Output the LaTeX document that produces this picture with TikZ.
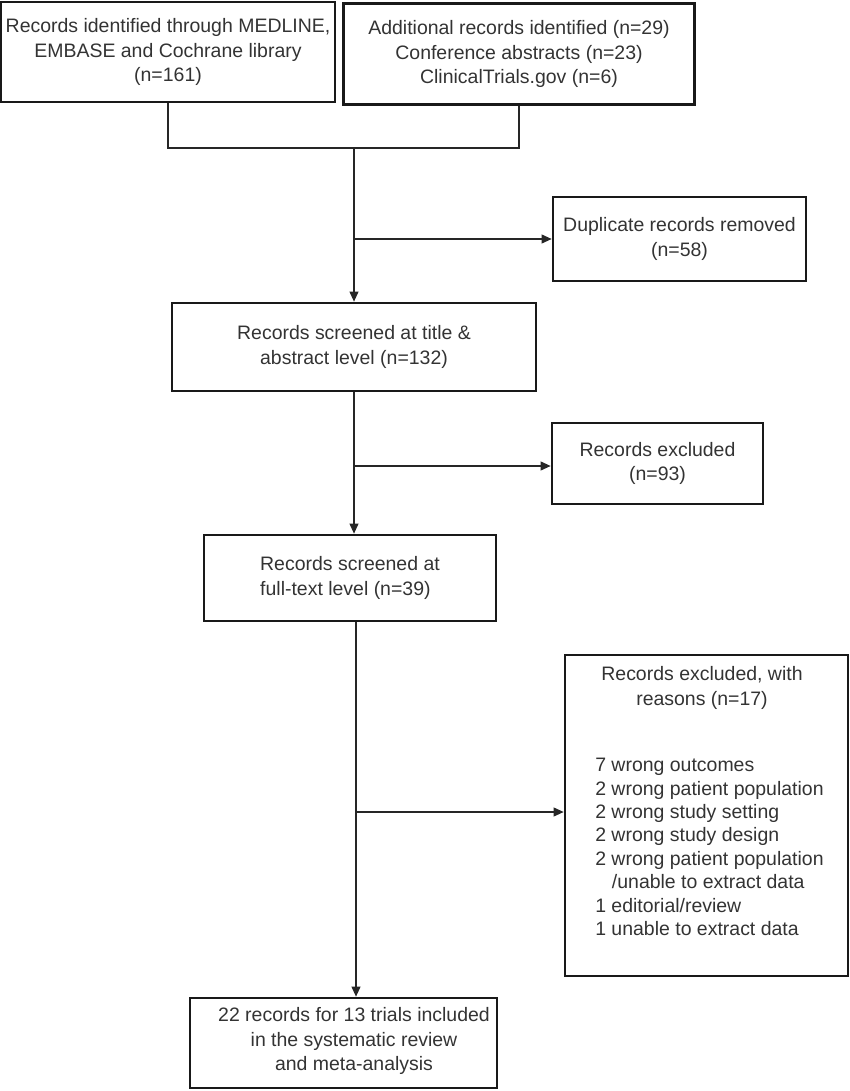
\documentclass[tikz,border=0pt]{standalone}
\usepackage{fontspec}
\setmainfont{Liberation Sans}
\usetikzlibrary{arrows.meta}
\begin{document}
\begin{tikzpicture}[x=0.75pt,y=-0.75pt,
  box/.style={draw=black!90, line width=1.9pt, inner sep=0pt},
  txt/.style={text=black!80, font=\fontsize{14.6}{18.3}\selectfont, align=center, inner sep=0pt},
  listtxt/.style={text=black!80, font=\fontsize{14.6}{17.55}\selectfont, align=left, inner sep=0pt},
  conn/.style={draw=black!85, line width=1.3pt},
  arr/.style={conn, -{Triangle[length=7.5pt,width=6.5pt]}}]
\useasboundingbox (0,0) rectangle (849,1091);

% boxes
\node[box, txt, minimum width=334*0.75pt, minimum height=100*0.75pt] (b1) at (168,52)
  {Records identified through MEDLINE,\\EMBASE and Cochrane library\\(n=161)};
\node[box, txt, minimum width=351*0.75pt, minimum height=101*0.75pt] (b2) at (519,54)
  {Additional records identified (n=29)\\Conference abstracts (n=23)\\ClinicalTrials.gov (n=6)};
\node[box, txt, minimum width=253*0.75pt, minimum height=84*0.75pt] (dup) at (679.5,239)
  {Duplicate records removed\\(n=58)};
\node[box, txt, minimum width=364*0.75pt, minimum height=88*0.75pt] (b3) at (354,347)
  {Records screened at title \&\\abstract level (n=132)};
\node[box, txt, minimum width=211*0.75pt, minimum height=81*0.75pt] (ex93) at (657.5,463.5)
  {Records excluded\\(n=93)};
\node[box, txt, align=left, minimum width=292*0.75pt, minimum height=86*0.75pt] (b4) at (350,578)
  {Records screened at\\full-text level (n=39)};
\node[box, minimum width=283*0.75pt, minimum height=321*0.75pt] (exr) at (706.5,815.5) {};
\node[txt] (exrh) at (702,688) {Records excluded, with\\reasons (n=17)};
\node[listtxt, anchor=west] (exrl) at (595,847)
  {7 wrong outcomes\\2 wrong patient population\\2 wrong study setting\\2 wrong study design\\2 wrong patient population\\\hspace*{12.5pt}/unable to extract data\\1 editorial/review\\1 unable to extract data};
\node[box, minimum width=307*0.75pt, minimum height=90*0.75pt] (b5) at (343.5,1043) {};
\node[txt] (b5t) at (354,1041)
  {22 records for 13 trials included\\in the systematic review\\and meta-analysis};

% connectors
\coordinate (j1) at (354,148);
\draw[conn] (b1.south) |- (j1) -| (b2.south);
\draw[arr] (j1) -- (j1 |- b3.north);
\coordinate (k1) at (354,239);
\draw[arr] (k1) -- (k1 -| dup.west);

\coordinate (k2) at (354,466);
\draw[arr] (k2 |- b3.south) -- (k2 |- b4.north);
\draw[arr] (k2) -- (k2 -| ex93.west);

\coordinate (k3) at (356,812);
\draw[arr] (k3 |- b4.south) -- (k3 |- b5.north);
\draw[arr] (k3) -- (k3 -| exr.west);
\end{tikzpicture}
\end{document}
